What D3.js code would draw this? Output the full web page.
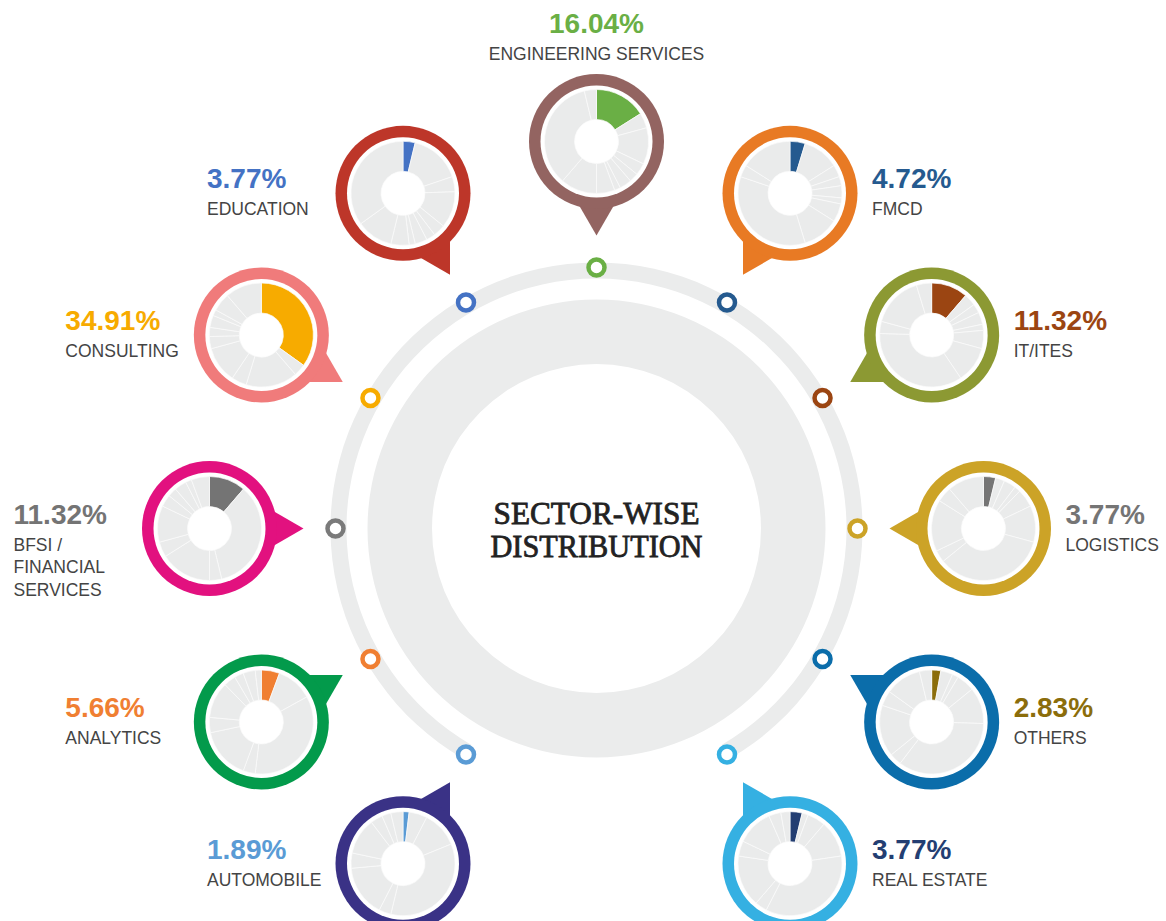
<!DOCTYPE html>
<html lang="en">
<head>
    <meta charset="UTF-8">
    <title>Sector-wise Distribution</title>
    <style>
        body { margin: 0; background: #fff; }
        svg { display: block; }
        .pct { font-family: "Liberation Sans", Arial, sans-serif; font-weight: bold; font-size: 28px; }
        .name { font-family: "Liberation Sans", Arial, sans-serif; font-size: 17.5px; fill: #444; }
        .title { font-family: "Liberation Serif", "DejaVu Serif", serif; font-size: 31px; fill: #222; stroke: #222; stroke-width: 0.8px; }
    </style>
</head>
<body>
<div id="chart"></div>

<script src="https://d3js.org/d3.v7.min.js"></script>
<script>
    // sectors, clockwise from the top
    var sectors = ["ENGINEERING SERVICES", "FMCD", "IT/ITES", "LOGISTICS", "OTHERS", "REAL ESTATE",
                   "AUTOMOBILE", "ANALYTICS", "BFSI /|FINANCIAL|SERVICES", "CONSULTING", "EDUCATION"];
    var shares = [16.04, 4.72, 11.32, 3.77, 2.83, 3.77, 1.89, 5.66, 11.32, 34.91, 3.77];
    var badgeColors = ["#936461", "#E87A24", "#8C9933", "#CCA327", "#0B6DAA", "#35B0E2",
                       "#3A3286", "#039A4B", "#E2117F", "#F07B7B", "#BD3629"];
    var valueColors = ["#6AAF45", "#255A8F", "#9B4512", "#757575", "#8B6D0B", "#233E72",
                       "#5A9BD5", "#F07F32", "#747474", "#F7AB00", "#4472C4"];
    var markerColors = ["#6AAF45", "#255A8F", "#9B4512", "#CCA327", "#0B6DAA", "#35B0E2",
                        "#5A9BD5", "#F07F32", "#7A7A7A", "#F7AB00", "#4472C4"];
    var titleLines = ["SECTOR-WISE", "DISTRIBUTION"];

    var W = 1166, H = 921;
    var cx = 596.5, cy = 528.5;
    var orbit = 387, markerR = 261;

    var svg = d3.select("#chart").append("svg")
        .attr("width", W)
        .attr("height", H);

    var center = svg.append("g").attr("transform", "translate(" + cx + "," + cy + ")");

    // thin outer arc (open at the bottom)
    center.append("path")
        .attr("d", d3.arc().innerRadius(250).outerRadius(266)
            .startAngle(-5 * Math.PI / 6).endAngle(5 * Math.PI / 6)())
        .attr("fill", "#EBECEC");

    // wide band
    center.append("path")
        .attr("d", d3.arc().innerRadius(164.5).outerRadius(229)
            .startAngle(0).endAngle(2 * Math.PI)())
        .attr("fill", "#EBECEC");

    // title
    center.selectAll(".title")
        .data(titleLines)
        .enter().append("text")
        .attr("class", "title")
        .attr("text-anchor", "middle")
        .attr("y", (d, i) => -4.5 + i * 33)
        .attr("textLength", (d, i) => i === 0 ? 206 : 212)
        .attr("lengthAdjust", "spacingAndGlyphs")
        .text(d => d);

    // angle slot for each sector (bottom slot left empty)
    var angleOf = i => (i < 6 ? i : i + 1) * Math.PI / 6;

    var pie = d3.pie().sort(null).value(d => d);
    var donutArc = d3.arc().innerRadius(22).outerRadius(52);

    sectors.forEach(function(name, i) {
        var a = angleOf(i);
        var sx = Math.sin(a), sy = -Math.cos(a);

        // marker on the thin arc
        center.append("circle")
            .attr("cx", sx * markerR)
            .attr("cy", sy * markerR)
            .attr("r", 8)
            .attr("fill", "#fff")
            .attr("stroke", markerColors[i])
            .attr("stroke-width", 4.5);

        var bx = cx + sx * orbit, by = cy + sy * orbit;
        var g = svg.append("g").attr("transform", "translate(" + bx + "," + by + ")");

        // pointer toward the centre
        var dx = -sx, dy = -sy;
        var tip = [dx * 94, dy * 94];
        var L = 46;
        var pts = [tip];
        [Math.PI / 6, -Math.PI / 6].forEach(function(r) {
            var bxv = -dx, byv = -dy;
            var rx = bxv * Math.cos(r) - byv * Math.sin(r);
            var ry = bxv * Math.sin(r) + byv * Math.cos(r);
            pts.push([tip[0] + rx * L, tip[1] + ry * L]);
        });
        g.append("path")
            .attr("d", d3.line()(pts) + "Z")
            .attr("fill", badgeColors[i]);

        g.append("circle").attr("r", 67.5).attr("fill", badgeColors[i]);
        g.append("circle").attr("r", 56).attr("fill", "#fff");

        // donut: this sector first, then the others in order
        var rotated = shares.slice(i).concat(shares.slice(0, i));
        g.selectAll(".slice")
            .data(pie(rotated))
            .enter().append("path")
            .attr("class", "slice")
            .attr("d", donutArc)
            .attr("fill", (d, k) => k === 0 ? valueColors[i] : "#EAEBEB")
            .attr("stroke", "#fafafa")
            .attr("stroke-width", 0.7);

        // labels
        var lines = name.split("|");
        var lx, py, anchor;
        if (i === 0) {
            lx = bx; py = 32.7; anchor = "middle";
        } else if (a < Math.PI) {
            lx = bx + 82; py = by - 5; anchor = "start";
        } else {
            lx = bx - 196; py = by - 5; anchor = "start";
        }
        svg.append("text")
            .attr("class", "pct")
            .attr("x", lx)
            .attr("y", py)
            .attr("text-anchor", anchor)
            .attr("fill", valueColors[i])
            .text(d3.format(".2f")(shares[i]) + "%");
        lines.forEach(function(t, k) {
            svg.append("text")
                .attr("class", "name")
                .attr("x", lx)
                .attr("y", py + 27 + k * 22.5)
                .attr("text-anchor", anchor)
                .text(t);
        });
    });
</script>

</body>
</html>
